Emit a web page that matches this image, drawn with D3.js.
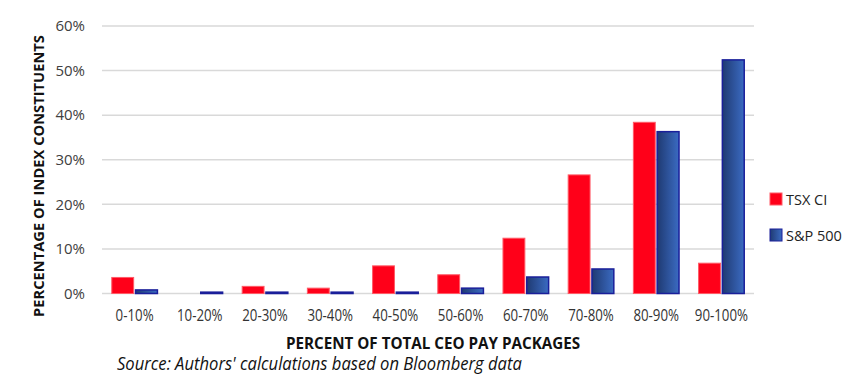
<!DOCTYPE html>
<html><head><meta charset="utf-8">
<script src="https://cdn.jsdelivr.net/npm/d3@7"></script>
<style>
html,body{margin:0;padding:0;background:#fff;}
svg{display:block;}
</style></head>
<body>
<script>
const categories = ["0-10%","10-20%","20-30%","30-40%","40-50%","50-60%","60-70%","70-80%","80-90%","90-100%"];
const seriesNames = ["TSX CI","S&P 500"];
const tsx = [3.6, 0, 1.6, 1.2, 6.2, 4.2, 12.4, 26.6, 38.4, 6.8];
const sp500 = [0.8, 0.3, 0.3, 0.3, 0.3, 1.2, 3.7, 5.5, 36.3, 52.4];
const yTicks = [0,10,20,30,40,50,60];

const W = 864, H = 391;
const margin = {left:102, right:110, top:26, bottom:97.5};
const svg = d3.select("body").append("svg").attr("width",W).attr("height",H);

const defs = svg.append("defs");
const g1 = defs.append("linearGradient").attr("id","blueGrad").attr("x1","0").attr("x2","1").attr("y1","0").attr("y2","0");
g1.append("stop").attr("offset","0%").attr("stop-color","#1f3a72");
g1.append("stop").attr("offset","100%").attr("stop-color","#3b6bc2");

const x = d3.scaleBand().domain(categories).range([margin.left, W-margin.right]).paddingInner(0.3).paddingOuter(0.15);
const x1 = d3.scaleBand().domain(seriesNames).range([0, x.bandwidth()]).paddingInner(0.08);
const y = d3.scaleLinear().domain([0,60]).range([H-margin.bottom, margin.top]);

// gridlines
svg.append("g").selectAll("line").data(yTicks).join("line")
  .attr("x1", margin.left).attr("x2", W-margin.right)
  .attr("y1", d=>y(d)).attr("y2", d=>y(d))
  .attr("stroke","#d9d9d9").attr("stroke-width",1.5);

// y axis labels
const yAxis = d3.axisLeft(y).tickValues(yTicks).tickFormat(d=>d+"%").tickSize(0).tickPadding(17);
const ya = svg.append("g").attr("transform",`translate(${margin.left},0)`).call(yAxis);
ya.select(".domain").remove();
ya.selectAll("text").attr("font-family","'Open Sans', sans-serif").attr("font-size",15).attr("fill","#404040");

// bars
const groups = svg.append("g").selectAll("g").data(categories).join("g")
  .attr("transform", d=>`translate(${x(d)},0)`);
groups.append("rect")
  .attr("x", x1("TSX CI")).attr("width", x1.bandwidth())
  .attr("y", (d,i)=>y(tsx[i])).attr("height",(d,i)=>y(0)-y(tsx[i]))
  .attr("fill","#ff0019").attr("stroke","#ff5a66").attr("stroke-width",(d,i)=>tsx[i]>0?1:0);
groups.append("rect")
  .attr("x", x1("S&P 500")).attr("width", x1.bandwidth())
  .attr("y", (d,i)=>y(sp500[i])).attr("height",(d,i)=>y(0)-y(sp500[i]))
  .attr("fill","url(#blueGrad)").attr("stroke","#1a1f9a").attr("stroke-width",1.5);

// x axis labels
const xAxis = d3.axisBottom(x).tickSize(0).tickPadding(16);
const xa = svg.append("g").attr("transform",`translate(0,${y(0)})`).call(xAxis);
xa.select(".domain").remove();
xa.selectAll("text").attr("font-family","'Open Sans', sans-serif").attr("font-size",16)
  .attr("fill","#333").attr("transform","scale(0.83,1)");

// axis titles
svg.append("text").attr("transform",`translate(${(margin.left + W - margin.right)/2 + 5},349)`)
  .attr("text-anchor","middle").attr("font-family","'Open Sans', sans-serif")
  .attr("font-weight","bold").attr("font-size",15.2).attr("fill","#111")
  .text("PERCENT OF TOTAL CEO PAY PACKAGES");
svg.append("text").attr("transform",`translate(44,176) rotate(-90)`)
  .attr("text-anchor","middle").attr("font-family","'Open Sans', sans-serif")
  .attr("font-weight","bold").attr("font-size",14.7).attr("fill","#111")
  .text("PERCENTAGE OF INDEX CONSTITUENTS");

// source
svg.append("text").attr("transform","translate(117,370) scale(0.95,1)")
  .attr("font-family","'Open Sans', sans-serif").attr("font-style","italic")
  .attr("font-size",17.5).attr("fill","#111")
  .text("Source: Authors' calculations based on Bloomberg data");

// legend
const legendY = [199, 235];
const colors = ["#ff0019","url(#blueGrad)"];
const strokes = ["#ff5a66","#1a1f9a"];
const lg = svg.append("g").selectAll("g").data(seriesNames).join("g")
  .attr("transform",(d,i)=>`translate(770,${legendY[i]})`);
lg.append("rect").attr("x",0).attr("y",-6).attr("width",12).attr("height",12)
  .attr("fill",(d,i)=>colors[i]).attr("stroke",(d,i)=>strokes[i]).attr("stroke-width",1);
lg.append("text").attr("x",16).attr("y",5.5).attr("font-family","'Open Sans', sans-serif")
  .attr("font-size",14.5).attr("fill","#222").text(d=>d);
</script>
</body></html>
